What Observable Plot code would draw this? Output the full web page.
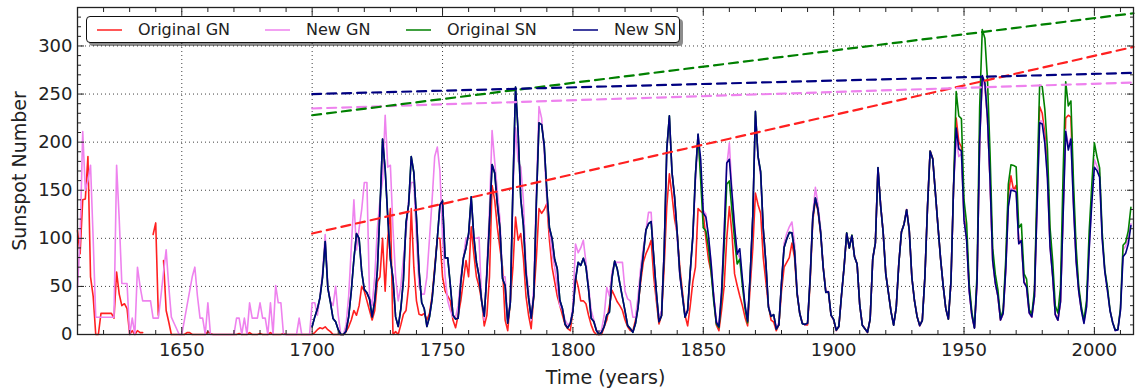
<!DOCTYPE html>
<html><head><meta charset="utf-8">
<script src="https://cdn.jsdelivr.net/npm/d3@7"></script>
<script src="https://cdn.jsdelivr.net/npm/@observablehq/plot@0.6"></script>
<style>
body{margin:0;background:#fff;font-family:"DejaVu Sans",sans-serif;}
#wrap{position:relative;width:1141px;height:390px;}
#legend{position:absolute;left:86px;top:16px;width:592px;height:25px;border:1px solid #111;border-radius:4px;background:#fff;box-shadow:3px 3px 0 rgba(0,0,0,0.45);}
.item{position:absolute;top:0;height:25px;line-height:25px;font-size:16px;color:#222;white-space:nowrap;}
.swatch{position:absolute;top:12px;height:2px;width:25px;}
</style></head>
<body><div id="wrap"><div id="chart"></div><div id="legend"></div></div>
<script>
// ---- data ----
const seriesNames = ["Original GN", "New GN", "Original SN", "New SN"];
const seriesColors = ["#ff2020", "violet", "green", "navy"];
const gnStartYear = 1610;
const snStartYear = 1700;

const originalGN = [
/*1610*/108,84,140,141,185,60,40,0,0,22,
/*1620*/22,22,22,22,17,65,42,30,32,27,
/*1630*/0,4,0,4,2,2,null,null,null,104,
/*1640*/116,20,null,77,25,13,0,0,0,0,
/*1650*/0,0,2,2,0,0,0,0,0,0,
/*1660*/3,1,0,0,0,0,0,0,0,0,
/*1670*/0,0,1,0,0,0,2,0,0,0,
/*1680*/1,0,0,0,2,0,0,0,0,1,
/*1690*/0,0,0,0,0,0,0,0,0,0,
/*1700*/0,2,5,7,6,8,5,3,0,0,
/*1710*/0,0,0,3,8,15,25,20,30,50,
/*1720*/45,35,25,15,25,55,60,100,45,100,
/*1730*/131,0,3,0,10,21,25,50,131,70,
/*1740*/35,21,20,22,15,22,40,70,100,100,
/*1750*/60,45,40,35,15,7,20,35,56,77,
/*1760*/60,112,84,60,50,35,9,20,60,155,
/*1770*/140,112,90,70,15,4,35,70,122,98,
/*1780*/105,80,40,20,6,40,80,131,126,130,
/*1790*/136,98,70,55,40,30,20,10,6,4,
/*1800*/25,60,50,35,35,32,20,10,3,0,
/*1810*/0,0,8,15,30,46,40,34,30,25,
/*1820*/15,8,4,4,15,30,55,75,84,90,
/*1830*/98,60,35,11,20,70,133,167,145,120,
/*1840*/105,70,45,20,9,30,55,70,131,128,
/*1850*/126,100,78,65,40,10,4,25,50,100,
/*1860*/133,105,63,51,40,30,18,9,50,90,
/*1870*/147,135,126,80,55,30,15,13,4,10,
/*1880*/45,70,75,80,95,80,42,22,12,10,
/*1890*/10,55,118,140,128,105,70,45,44,20,
/*1900*/15,4,8,40,70,105,90,103,81,73,
/*1910*/31,10,6,2,16,79,95,173,135,106,
/*1920*/63,44,24,10,28,74,107,115,130,108,
/*1930*/59,35,19,9,15,60,133,191,183,148,
/*1940*/113,79,51,27,16,55,154,225,200,195,
/*1950*/125,100,47,20,7,56,205,268,260,225,
/*1960*/160,78,54,40,15,22,70,145,165,150,
/*1970*/155,96,98,55,50,23,18,40,140,237,
/*1980*/230,209,170,95,62,21,15,35,130,225,
/*1990*/228,226,140,80,46,26
];

const newGN = [
/*1610*/49,100,211,150,160,176,100,18,18,18,
/*1620*/18,18,18,18,18,176,120,53,53,53,
/*1630*/0,17,0,70,50,35,35,35,35,17,
/*1640*/17,17,40,65,88,50,18,12,6,0,
/*1650*/0,15,30,45,60,70,40,17,17,0,
/*1660*/33,0,0,0,0,0,0,0,0,0,
/*1670*/0,17,17,0,17,0,33,17,17,17,
/*1680*/33,17,17,0,33,0,51,33,33,0,
/*1690*/0,0,0,0,0,17,0,0,0,0,
/*1700*/33,33,20,40,65,104,50,35,30,50,
/*1710*/20,0,0,10,40,90,140,88,110,130,
/*1720*/158,158,40,30,60,110,140,160,228,174,
/*1730*/176,110,60,35,50,80,105,140,158,158,
/*1740*/100,50,42,42,60,100,140,185,195,170,
/*1750*/100,60,35,25,18,18,30,60,80,100,
/*1760*/101,140,100,100,101,35,15,70,130,212,
/*1770*/180,150,120,60,60,15,35,150,215,180,
/*1780*/174,140,70,45,15,50,150,237,225,190,
/*1790*/140,110,85,70,50,30,25,15,10,12,
/*1800*/30,94,85,90,98,75,50,25,15,5,
/*1810*/2,5,20,49,40,65,75,75,75,75,
/*1820*/45,37,35,18,18,40,70,90,108,127,
/*1830*/127,80,40,18,25,90,190,225,170,140,
/*1840*/100,60,40,20,25,65,100,160,200,170,
/*1850*/129,125,100,75,40,15,10,45,105,175,
/*1860*/199,150,112,85,80,55,30,15,60,125,
/*1870*/228,185,165,110,75,30,20,20,8,12,
/*1880*/55,95,105,112,117,95,45,22,12,10,
/*1890*/12,62,125,153,135,110,70,45,45,20,
/*1900*/15,4,8,40,70,105,90,103,81,73,
/*1910*/31,10,6,2,16,79,95,173,135,106,
/*1920*/63,44,24,10,28,74,107,115,130,108,
/*1930*/59,35,19,9,15,60,133,191,183,148,
/*1940*/113,79,51,27,16,55,154,205,185,188,
/*1950*/119,98,45,20,7,54,201,265,258,225,
/*1960*/159,76,53,40,15,22,67,135,152,150,
/*1970*/150,94,98,54,49,22,18,39,133,222,
/*1980*/222,200,163,91,61,21,15,34,124,213,
/*1990*/196,205,134,77,45,25,12,29,90,140,
/*2000*/182,175,168,100,66,46,25,13,4,5,
/*2010*/26,88,92,100,115
];

const originalSN = [
/*1700*/8.3,18.3,26.7,38.3,60.0,96.7,48.3,33.3,16.7,13.3,
/*1710*/5.0,0.0,0.0,3.3,18.3,45.0,78.3,105.0,100.0,65.0,
/*1720*/46.7,43.3,36.7,18.3,35.0,66.7,130.0,203.3,171.7,121.7,
/*1730*/78.3,58.3,18.3,8.3,26.7,56.7,116.7,135.0,185.0,168.3,
/*1740*/121.7,66.7,33.3,26.7,8.3,18.3,36.7,66.7,100.0,134.8,
/*1750*/139.0,79.5,79.7,51.2,20.3,16.0,17.0,54.0,79.3,90.0,
/*1760*/104.8,143.2,102.0,75.2,60.7,34.8,19.0,63.0,116.3,176.8,
/*1770*/168.0,136.0,110.8,58.0,51.0,11.7,33.0,154.2,257.3,209.8,
/*1780*/141.3,113.5,64.2,38.0,17.0,40.2,138.2,220.0,218.2,196.8,
/*1790*/149.8,111.0,100.0,78.2,68.3,35.5,26.7,10.7,6.8,11.3,
/*1800*/24.2,56.7,75.0,71.8,79.2,70.3,46.8,16.8,13.5,4.2,
/*1810*/0.0,2.3,8.3,20.3,23.2,59.0,76.3,68.3,52.9,38.5,
/*1820*/24.2,9.2,6.3,2.2,11.4,28.2,59.9,83.0,108.5,115.2,
/*1830*/117.4,80.8,44.3,13.4,19.5,85.8,192.7,227.3,168.7,143.0,
/*1840*/105.5,63.3,40.3,18.1,25.1,65.8,102.7,166.3,207.8,160.5,
/*1850*/111.0,107.5,90.2,65.0,34.3,11.2,7.2,37.8,91.3,156.3,
/*1860*/159.7,128.7,98.5,73.3,78.3,50.8,27.2,12.2,62.7,123.3,
/*1870*/231.7,185.3,169.3,110.3,74.5,28.3,18.8,20.7,5.7,10.0,
/*1880*/53.8,90.5,99.5,106.2,105.8,87.0,42.3,21.8,11.3,10.5,
/*1890*/11.8,59.3,121.7,141.8,130.0,106.7,69.7,43.7,44.5,20.2,
/*1900*/15.8,4.5,8.3,40.7,70.0,105.8,89.7,103.3,80.8,73.2,
/*1910*/31.0,9.5,6.0,2.3,16.0,79.0,95.2,173.2,134.3,106.0,
/*1920*/62.7,43.5,23.7,9.7,27.8,73.8,106.5,115.0,129.7,108.2,
/*1930*/59.5,35.3,18.5,9.5,14.5,60.2,132.8,190.7,182.7,148.0,
/*1940*/113.0,79.2,51.0,27.2,16.0,55.3,154.3,252.7,227.2,224.5,
/*1950*/139.8,115.7,52.5,23.2,7.3,63.3,236.2,317.0,308.0,265.0,
/*1960*/187.2,89.8,62.7,46.5,17.0,25.2,78.3,156.3,176.5,175.8,
/*1970*/174.2,111.0,114.8,63.3,57.5,25.8,21.0,45.8,154.2,259.0,
/*1980*/257.7,234.0,193.2,111.0,76.5,29.8,22.3,49.0,167.0,262.7,
/*1990*/237.7,242.8,157.2,91.0,49.8,29.2,14.3,35.8,107.2,155.5,
/*2000*/199.3,185.0,173.3,106.2,67.3,49.7,25.3,12.5,4.8,5.2,
/*2010*/27.5,92.8,96.0,107.8,132.2
];

const newSN = [
/*1700*/8.3,18.3,26.7,38.3,60.0,96.7,48.3,33.3,16.7,13.3,
/*1710*/5.0,0.0,0.0,3.3,18.3,45.0,78.3,105.0,100.0,65.0,
/*1720*/46.7,43.3,36.7,18.3,35.0,66.7,130.0,203.3,171.7,121.7,
/*1730*/78.3,58.3,18.3,8.3,26.7,56.7,116.7,135.0,185.0,168.3,
/*1740*/121.7,66.7,33.3,26.7,8.3,18.3,36.7,66.7,100.0,134.8,
/*1750*/139.0,79.5,79.7,51.2,20.3,16.0,17.0,54.0,79.3,90.0,
/*1760*/104.8,143.2,102.0,75.2,60.7,34.8,19.0,63.0,116.3,176.8,
/*1770*/168.0,136.0,110.8,58.0,51.0,11.7,33.0,154.2,257.3,209.8,
/*1780*/141.3,113.5,64.2,38.0,17.0,40.2,138.2,220.0,218.2,196.8,
/*1790*/149.8,111.0,100.0,78.2,68.3,35.5,26.7,10.7,6.8,11.3,
/*1800*/24.2,56.7,75.0,71.8,79.2,70.3,46.8,16.8,13.5,4.2,
/*1810*/0.0,2.3,8.3,20.3,23.2,59.0,76.3,68.3,52.9,38.5,
/*1820*/24.2,9.2,6.3,2.2,11.4,28.2,59.9,83.0,108.5,115.2,
/*1830*/117.4,80.8,44.3,13.4,19.5,85.8,192.7,227.3,168.7,143.0,
/*1840*/105.5,63.3,40.3,18.1,25.1,65.8,102.7,166.3,208.3,182.5,
/*1850*/126.3,122.0,102.7,74.1,39.0,12.7,8.2,43.4,104.4,178.3,
/*1860*/182.2,146.6,112.1,83.5,89.2,57.8,30.7,13.9,62.8,123.6,
/*1870*/232.0,185.3,169.2,110.1,74.5,28.3,18.9,20.7,5.7,10.0,
/*1880*/53.7,90.5,99.0,106.1,105.8,86.3,42.4,21.8,11.2,10.4,
/*1890*/11.8,59.5,121.7,142.0,130.0,106.6,69.4,43.8,44.4,20.2,
/*1900*/15.7,4.6,8.5,40.8,70.1,105.5,90.1,102.8,80.9,73.2,
/*1910*/30.9,9.5,6.0,2.4,16.1,79.0,95.0,173.6,134.6,105.7,
/*1920*/62.7,43.5,23.7,9.7,27.9,74.0,106.5,114.7,129.7,108.2,
/*1930*/59.4,35.1,18.6,9.2,14.6,60.2,132.8,190.6,182.6,148.0,
/*1940*/113.0,79.2,50.8,27.1,16.1,55.3,154.3,214.7,193.0,190.7,
/*1950*/118.9,98.3,45.0,20.1,6.6,54.2,200.7,269.3,261.7,225.1,
/*1960*/159.0,76.4,53.4,39.9,15.0,22.0,66.8,132.9,150.0,149.4,
/*1970*/148.0,94.4,97.6,54.1,49.2,22.5,18.4,39.3,131.0,220.1,
/*1980*/218.9,198.9,162.4,91.0,60.5,20.6,14.8,33.9,123.0,211.1,
/*1990*/191.8,203.3,133.0,76.1,44.9,25.1,11.6,28.9,88.3,136.3,
/*2000*/173.9,170.4,163.6,99.3,65.3,45.8,24.7,12.6,4.2,4.8,
/*2010*/24.9,80.8,84.5,94.0,113.3
];

// linear trends (value at first and last trend year)
const trendYears = [1700, 2015];
const trendOriginalGN = [105, 299];
const trendNewGN = [235, 262];
const trendOriginalSN = [228, 334];
const trendNewSN = [250, 272];

// axis ticks
const xMajor = [1650, 1700, 1750, 1800, 1850, 1900, 1950, 2000];
const xMinor = [1610,1620,1630,1640,1660,1670,1680,1690,1710,1720,1730,1740,1760,1770,1780,1790,1810,1820,1830,1840,1860,1870,1880,1890,1910,1920,1930,1940,1960,1970,1980,1990,2010];
const yMajor = [0, 50, 100, 150, 200, 250, 300];
const yMinor = [10,20,30,40,60,70,80,90,110,120,130,140,160,170,180,190,210,220,230,240,260,270,280,290,310,320,330];
const xTitle = "Time (years)";
const yTitle = "Sunspot Number";

// ---- build tables ----
const toRows = (start, vals) => vals.map((v, i) => ({year: start + i, value: v == null ? NaN : v}));
const seriesData = [
  toRows(gnStartYear, originalGN),
  toRows(gnStartYear, newGN),
  toRows(snStartYear, originalSN),
  toRows(snStartYear, newSN)
];
const trends = [trendOriginalGN, trendNewGN, trendOriginalSN, trendNewSN]
  .map(t => t.map((v, i) => ({year: trendYears[i], value: v})));

const tickStyle = {stroke: "#222", strokeWidth: 1, tickFormat: () => "", label: null};

const chart = Plot.plot({
  width: 1141, height: 390,
  marginLeft: 77, marginRight: 8, marginTop: 7, marginBottom: 56,
  style: {fontFamily: "'DejaVu Sans', sans-serif", fontSize: "18px", color: "#222", background: "white"},
  x: {domain: [1610, 2015], label: null},
  y: {domain: [0, 340], label: null},
  marks: [
    Plot.gridX(xMajor, {stroke: "#000", strokeOpacity: 0.75, strokeWidth: 1, strokeDasharray: "1,3"}),
    Plot.gridY(yMajor.slice(1), {stroke: "#000", strokeOpacity: 0.75, strokeWidth: 1, strokeDasharray: "1,3"}),
    ...seriesData.map((d, i) => Plot.line(d, {x: "year", y: "value", stroke: seriesColors[i], strokeWidth: 1.6})),
    ...trends.map((d, i) => Plot.line(d, {x: "year", y: "value", stroke: seriesColors[i], strokeWidth: 2.2, strokeDasharray: "9,6"})),
    Plot.frame({stroke: "#222", strokeWidth: 1.3}),
    Plot.axisX(xMinor, {anchor: "bottom", tickSize: -4, ...tickStyle}),
    Plot.axisX(xMinor, {anchor: "top", tickSize: -4, ...tickStyle}),
    Plot.axisX(xMajor, {anchor: "bottom", tickSize: -7, ...tickStyle}),
    Plot.axisX(xMajor, {anchor: "top", tickSize: -7, ...tickStyle}),
    Plot.axisY(yMinor, {anchor: "left", tickSize: -4, ...tickStyle}),
    Plot.axisY(yMinor, {anchor: "right", tickSize: -4, ...tickStyle}),
    Plot.axisY(yMajor, {anchor: "left", tickSize: -7, ...tickStyle}),
    Plot.axisY(yMajor, {anchor: "right", tickSize: -7, ...tickStyle}),
    Plot.axisX(xMajor, {anchor: "bottom", tickSize: 0, tickPadding: 9, tickFormat: d => String(d), label: null, fontSize: 18}),
    Plot.axisY(yMajor, {anchor: "left", tickSize: 0, tickPadding: 5, tickFormat: d => String(d), label: null, fontSize: 18}),
    Plot.text([xTitle], {frameAnchor: "bottom", dy: 43, text: d => d, fontSize: 19, fill: "#222", textAnchor: "middle", lineAnchor: "middle"}),
    Plot.text([yTitle], {frameAnchor: "left", dx: -58, rotate: -90, text: d => d, fontSize: 19, fill: "#222", textAnchor: "middle", lineAnchor: "middle"})
  ]
});
document.getElementById("chart").appendChild(chart);

// ---- legend ----
const legend = document.getElementById("legend");
const swatchX = [10, 178, 319, 486];
const labelX = [51, 219, 360, 527];
seriesNames.forEach((name, i) => {
  const sw = document.createElement("div");
  sw.className = "swatch";
  sw.style.left = swatchX[i] + "px";
  sw.style.background = seriesColors[i];
  sw.style.opacity = 0.75;
  legend.appendChild(sw);
  const lb = document.createElement("div");
  lb.className = "item";
  lb.style.left = labelX[i] + "px";
  lb.textContent = name;
  legend.appendChild(lb);
});
</script>
</body></html>
